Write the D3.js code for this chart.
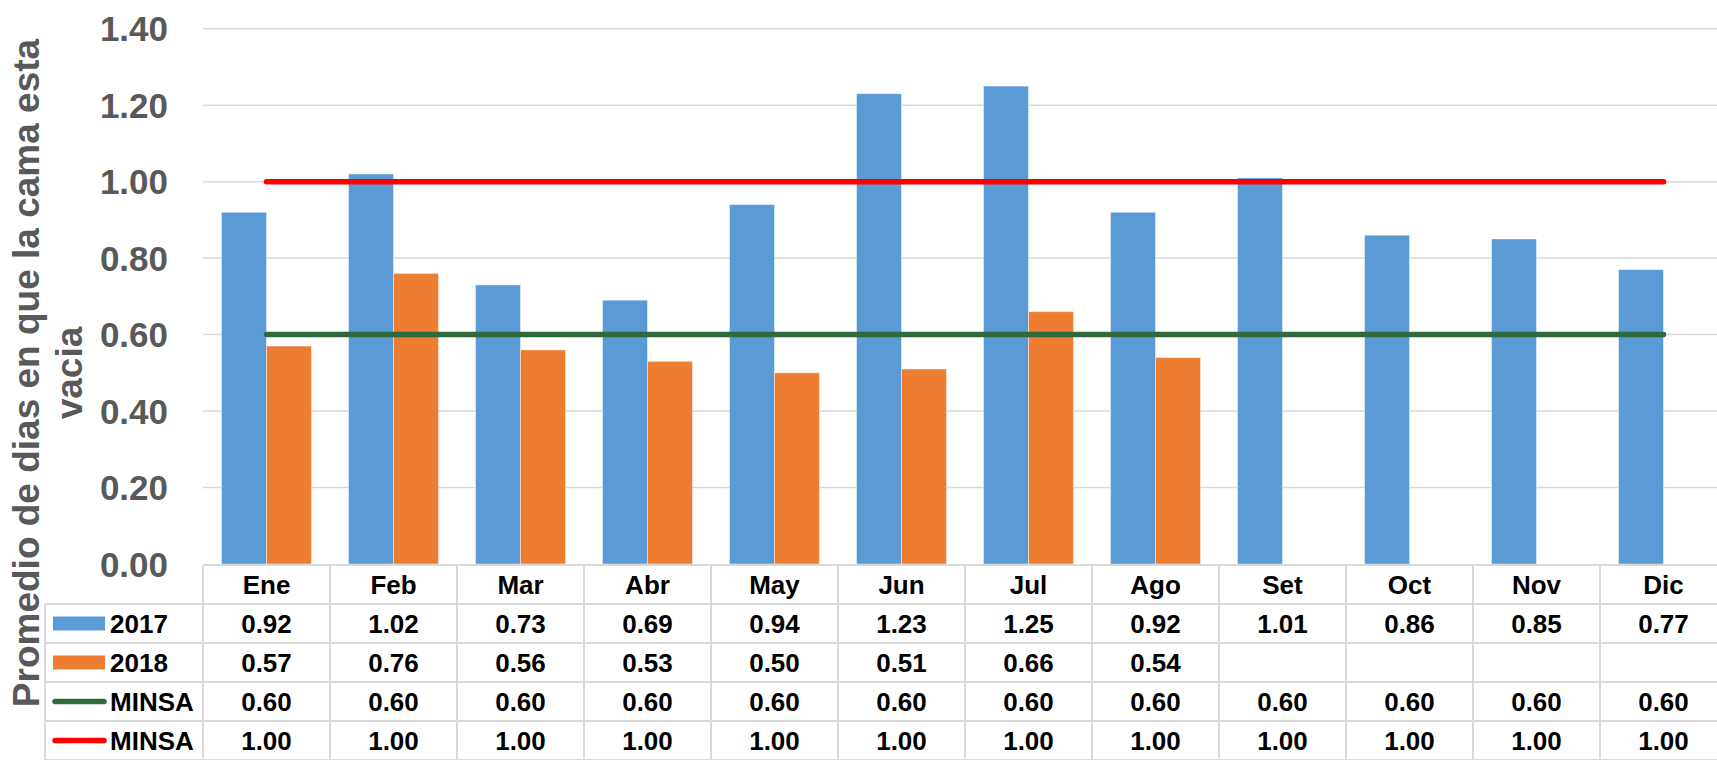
<!DOCTYPE html>
<html lang="es">
<head>
    <meta charset="UTF-8">
    <title>Promedio de dias en que la cama esta vacia</title>
    <style>
        body { margin: 0; background: #ffffff; }
        svg { display: block; font-family: "Liberation Sans", Arial, sans-serif; font-weight: bold; }
        .grid line { stroke: #d9d9d9; stroke-width: 1.5; }
        .tabla line { stroke: #d9d9d9; stroke-width: 2; }
        .ytick { fill: #595959; font-size: 35px; }
        .celda { fill: #000000; font-size: 26px; }
    </style>
</head>
<body>
<div id="chart"></div>
<script src="https://d3js.org/d3.v7.min.js"></script>
<script>
    // Datos
    const meses = ["Ene", "Feb", "Mar", "Abr", "May", "Jun", "Jul", "Ago", "Set", "Oct", "Nov", "Dic"];
    const valores2017 = [0.92, 1.02, 0.73, 0.69, 0.94, 1.23, 1.25, 0.92, 1.01, 0.86, 0.85, 0.77];
    const valores2018 = [0.57, 0.76, 0.56, 0.53, 0.50, 0.51, 0.66, 0.54, null, null, null, null];
    const minsaBajo = [0.60, 0.60, 0.60, 0.60, 0.60, 0.60, 0.60, 0.60, 0.60, 0.60, 0.60, 0.60];
    const minsaAlto = [1.00, 1.00, 1.00, 1.00, 1.00, 1.00, 1.00, 1.00, 1.00, 1.00, 1.00, 1.00];
    const yTicks = [0, 0.2, 0.4, 0.6, 0.8, 1.0, 1.2, 1.4];
    const tituloY = ["Promedio de dias en que la cama esta", "vacia"];

    const width = 1717, height = 760;
    const plot = {left: 203, top: 28.7, bottom: 564};
    const paso = 127;
    const filaAlto = 39;
    const tablaTop = 565;
    const leyendaLeft = 45;

    const svg = d3.select("#chart").append("svg")
        .attr("width", width)
        .attr("height", height);

    const x = d3.scaleBand()
        .domain(meses)
        .range([plot.left, plot.left + paso * meses.length])
        .paddingInner(0)
        .paddingOuter(0);

    const anchoBar = 45;
    const x1 = d3.scaleBand()
        .domain(["2017", "2018"])
        .range([(paso - 2 * anchoBar) / 2, (paso + 2 * anchoBar) / 2]);

    const y = d3.scaleLinear()
        .domain([0, 1.4])
        .range([plot.bottom, plot.top]);

    // lineas de la cuadricula
    svg.append("g").attr("class", "grid")
        .selectAll("line")
        .data(yTicks.filter(d => d > 0))
        .enter().append("line")
        .attr("x1", plot.left)
        .attr("x2", width)
        .attr("y1", d => y(d))
        .attr("y2", d => y(d));

    // etiquetas del eje Y
    svg.append("g")
        .selectAll("text")
        .data(yTicks)
        .enter().append("text")
        .attr("class", "ytick")
        .attr("x", 168)
        .attr("y", d => y(d) + 12.5)
        .attr("text-anchor", "end")
        .text(d => d.toFixed(2));

    // titulo del eje Y
    const titulo = svg.append("text")
        .attr("transform", "translate(38.5," + 373 + ") rotate(-90)")
        .attr("text-anchor", "middle")
        .style("fill", "#595959")
        .style("font-size", "37px");
    tituloY.forEach((t, i) => {
        titulo.append("tspan")
            .attr("x", 0)
            .attr("dy", i === 0 ? 0 : 43.5)
            .text(t);
    });

    const colores = {"2017": "#5b9bd5", "2018": "#ed7d31"};

    // barras
    const series = [
        {key: "2017", values: valores2017},
        {key: "2018", values: valores2018}
    ];
    series.forEach(s => {
        svg.append("g")
            .selectAll("rect")
            .data(meses.map((m, i) => ({mes: m, v: s.values[i]})).filter(d => d.v !== null))
            .enter().append("rect")
            .attr("x", d => x(d.mes) + x1(s.key))
            .attr("y", d => y(d.v))
            .attr("width", x1.bandwidth())
            .attr("height", d => y(0) - y(d.v))
            .attr("fill", colores[s.key])
            .attr("stroke", "#ffffff")
            .attr("stroke-opacity", 0.45)
            .attr("stroke-width", 1);
    });

    // lineas MINSA
    const linea = d3.line()
        .x((d, i) => x(meses[i]) + x.bandwidth() / 2)
        .y(d => y(d));

    const lineas = [
        {values: minsaBajo, color: "#2e6a3c"},
        {values: minsaAlto, color: "#ff0000"}
    ];
    lineas.forEach(l => {
        svg.append("path")
            .datum(l.values)
            .attr("d", linea)
            .attr("fill", "none")
            .attr("stroke", l.color)
            .attr("stroke-width", 5.5)
            .attr("stroke-linecap", "round");
    });

    // tabla de datos
    const tabla = svg.append("g").attr("class", "tabla");
    const right = width + 20;
    const filas = [
        {nombre: "2017", values: valores2017, tipo: "rect", color: colores["2017"]},
        {nombre: "2018", values: valores2018, tipo: "rect", color: colores["2018"]},
        {nombre: "MINSA", values: minsaBajo, tipo: "line", color: "#2e6a3c"},
        {nombre: "MINSA", values: minsaAlto, tipo: "line", color: "#ff0000"}
    ];

    // horizontales
    tabla.append("line")
        .attr("x1", plot.left).attr("x2", right)
        .attr("y1", tablaTop).attr("y2", tablaTop);
    d3.range(1, filas.length + 2).forEach(r => {
        tabla.append("line")
            .attr("x1", leyendaLeft).attr("x2", right)
            .attr("y1", tablaTop + r * filaAlto).attr("y2", tablaTop + r * filaAlto);
    });
    // verticales
    tabla.append("line")
        .attr("x1", leyendaLeft).attr("x2", leyendaLeft)
        .attr("y1", tablaTop + filaAlto).attr("y2", height + 10);
    meses.forEach(m => {
        tabla.append("line")
            .attr("x1", x(m)).attr("x2", x(m))
            .attr("y1", tablaTop).attr("y2", height + 10);
    });
    tabla.append("line")
        .attr("x1", x.range()[1]).attr("x2", x.range()[1])
        .attr("y1", tablaTop).attr("y2", height + 10);

    // encabezados de meses
    svg.append("g")
        .selectAll("text")
        .data(meses)
        .enter().append("text")
        .attr("class", "celda")
        .attr("x", d => x(d) + x.bandwidth() / 2)
        .attr("y", tablaTop + filaAlto / 2 + 9.5)
        .attr("text-anchor", "middle")
        .text(d => d);

    filas.forEach((f, r) => {
        const cy = tablaTop + (r + 1) * filaAlto + filaAlto / 2;
        const g = svg.append("g");
        if (f.tipo === "rect") {
            g.append("rect")
                .attr("x", 53).attr("y", cy - 7)
                .attr("width", 52).attr("height", 14)
                .attr("fill", f.color);
        } else {
            g.append("line")
                .attr("x1", 55).attr("x2", 104)
                .attr("y1", cy).attr("y2", cy)
                .attr("stroke", f.color)
                .attr("stroke-width", 5.5)
                .attr("stroke-linecap", "round");
        }
        g.append("text")
            .attr("class", "celda")
            .attr("x", 110)
            .attr("y", cy + 9.5)
            .text(f.nombre);
        g.selectAll("text.valor")
            .data(meses.map((m, i) => ({mes: m, v: f.values[i]})).filter(d => d.v !== null))
            .enter().append("text")
            .attr("class", "celda valor")
            .attr("x", d => x(d.mes) + x.bandwidth() / 2)
            .attr("y", cy + 9.5)
            .attr("text-anchor", "middle")
            .text(d => d.v.toFixed(2));
    });
</script>
</body>
</html>
